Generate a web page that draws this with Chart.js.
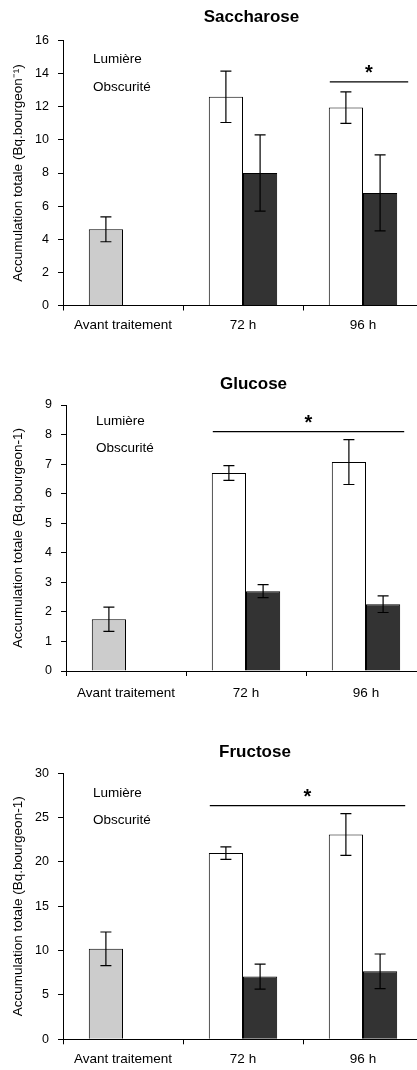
<!DOCTYPE html>
<html>
<head>
<meta charset="utf-8">
<script src="https://cdn.jsdelivr.net/npm/chart.js@4/dist/chart.umd.min.js"></script>
<style>
  html, body { margin: 0; padding: 0; background: #fff; overflow: hidden; width: 417px; height: 1070px; }
  canvas { position: absolute; left: 0; }
</style>
</head>
<body>
<canvas id="sacChart" width="503" height="340" style="top:0px"></canvas>
<canvas id="gluChart" width="507" height="362" style="top:350px"></canvas>
<canvas id="fruChart" width="510" height="360" style="top:715px"></canvas>
<script>
const categories = ['Avant traitement', '72 h', '96 h'];
const seriesNames = ['Lumière', 'Obscurité'];

const sacLumiere = [4.6, 12.6, 11.95];
const sacLumiereErr = [0.75, 1.55, 0.95];
const sacObscurite = [null, 8.0, 6.8];
const sacObscuriteErr = [null, 2.3, 2.3];

const gluLumiere = [1.75, 6.7, 7.07];
const gluLumiereErr = [0.41, 0.25, 0.76];
const gluObscurite = [null, 2.7, 2.26];
const gluObscuriteErr = [null, 0.22, 0.28];

const fruLumiere = [10.2, 21.0, 23.1];
const fruLumiereErr = [1.9, 0.7, 2.35];
const fruObscurite = [null, 7.07, 7.67];
const fruObscuriteErr = [null, 1.4, 1.95];

const sacTicks = [0, 16, 2];
const gluTicks = [0, 9, 1];
const fruTicks = [0, 30, 5];

Chart.defaults.font.family = "'Liberation Sans', Arial, sans-serif";
Chart.defaults.color = '#000';

// error bars, significance bar with star, and text-only legend
const extrasPlugin = {
    id: 'extras',
    afterDatasetsDraw(chart, args, opts) {
        const ctx = chart.ctx;
        const yScale = chart.scales.y;
        ctx.save();
        ctx.strokeStyle = '#000';
        ctx.lineWidth = 1.2;
        chart.data.datasets.forEach((ds, di) => {
            const meta = chart.getDatasetMeta(di);
            meta.data.forEach((bar, i) => {
                const v = ds.data[i];
                const e = opts.errors[di][i];
                if (v == null || e == null) return;
                const x = bar.getProps(['x'], true).x;
                const yt = yScale.getPixelForValue(v + e);
                const yb = yScale.getPixelForValue(v - e);
                ctx.beginPath();
                ctx.moveTo(x, yt); ctx.lineTo(x, yb);
                ctx.moveTo(x - 5.5, yt); ctx.lineTo(x + 5.5, yt);
                ctx.moveTo(x - 5.5, yb); ctx.lineTo(x + 5.5, yb);
                ctx.stroke();
            });
        });

        const s = opts.sig;
        const b0 = chart.getDatasetMeta(0).data[s.from].getProps(['x', 'width'], true);
        const b1 = chart.getDatasetMeta(1).data[s.to].getProps(['x', 'width'], true);
        const xl = b0.x - b0.width / 2 + 1;
        const xr = b1.x + b1.width / 2 + s.extra;
        const ys = yScale.getPixelForValue(s.value);
        ctx.lineWidth = 1.3;
        ctx.beginPath();
        ctx.moveTo(xl, ys); ctx.lineTo(xr, ys);
        ctx.stroke();
        ctx.fillStyle = '#000';
        ctx.font = "bold 20px 'Liberation Sans', Arial, sans-serif";
        ctx.textAlign = 'center';
        ctx.textBaseline = 'middle';
        ctx.fillText('*', (xl + xr) / 2, ys - 8);

        ctx.font = "13.5px 'Liberation Sans', Arial, sans-serif";
        ctx.textAlign = 'left';
        chart.data.datasets.forEach((ds, di) => {
            ctx.fillText(ds.label, chart.chartArea.left + 30, chart.chartArea.top + opts.legendY[di]);
        });
        ctx.restore();
    }
};

function makeChart(id, cfg) {
    const canvas = document.getElementById(id);
    return new Chart(canvas.getContext('2d'), {
        type: 'bar',
        data: {
            labels: categories,
            datasets: [{
                label: seriesNames[0],
                data: cfg.lum,
                backgroundColor: ['#cccccc', '#ffffff', '#ffffff'],
                borderColor: '#000',
                borderWidth: 1,
                categoryPercentage: 0.57,
                barPercentage: 1
            }, {
                label: seriesNames[1],
                data: cfg.obs,
                backgroundColor: '#333333',
                borderColor: '#000',
                borderWidth: 1,
                categoryPercentage: 0.57,
                barPercentage: 1
            }]
        },
        plugins: [extrasPlugin],
        options: {
            responsive: false,
            devicePixelRatio: 1,
            animation: false,
            layout: { padding: { left: 0, right: 0, top: 0, bottom: cfg.padBottom } },
            plugins: {
                legend: { display: false },
                tooltip: { enabled: false },
                title: {
                    display: true,
                    text: cfg.title,
                    color: '#000',
                    font: { size: 17, weight: 'bold' },
                    padding: { top: cfg.titleTop, bottom: cfg.titleBottom }
                },
                extras: {
                    errors: cfg.errors,
                    sig: cfg.sig,
                    legendY: cfg.legendY
                }
            },
            scales: {
                x: {
                    offset: true,
                    border: { color: '#000', width: 1 },
                    grid: { display: true, drawOnChartArea: false, drawTicks: true, tickLength: 5, color: '#000', offset: true },
                    ticks: { color: '#000', font: { size: 13.5 }, padding: cfg.xPad, maxRotation: 0, autoSkip: false }
                },
                y: {
                    min: cfg.ticks[0],
                    max: cfg.ticks[1],
                    border: { color: '#000', width: 1 },
                    grid: { drawOnChartArea: false, drawTicks: true, tickLength: 5, color: '#000' },
                    ticks: { stepSize: cfg.ticks[2], color: '#000', font: { size: 12.5 }, padding: 9 },
                    title: {
                        display: true,
                        text: cfg.yTitle,
                        color: '#000',
                        font: { size: 13.5 },
                        padding: { top: 10, bottom: 0 }
                    },
                    afterFit: s => { s.width = cfg.axisLeft; }
                },
                yR: {
                    position: 'right',
                    display: true,
                    border: { display: false },
                    grid: { display: false },
                    ticks: { display: false },
                    afterFit: s => { s.width = cfg.rightGap; }
                }
            }
        }
    });
}

makeChart('sacChart', {
    title: 'Saccharose',
    lum: sacLumiere, obs: sacObscurite,
    errors: [sacLumiereErr, sacObscuriteErr],
    ticks: sacTicks,
    yTitle: 'Accumulation totale (Bq.bourgeon\u207B\u00B9)',
    sig: { value: 13.5, from: 2, to: 2, extra: 11 },
    legendY: [18.5, 46.5],
    titleTop: 6.8, titleBottom: 13.3,
    xPad: 6.4, padBottom: 0.5,
    axisLeft: 63, rightGap: 503 - 423
});

makeChart('gluChart', {
    title: 'Glucose',
    lum: gluLumiere, obs: gluObscurite,
    errors: [gluLumiereErr, gluObscuriteErr],
    ticks: gluTicks,
    yTitle: 'Accumulation totale (Bq.bourgeon-1)',
    sig: { value: 8.1, from: 1, to: 2, extra: 4 },
    legendY: [16, 43],
    titleTop: 23.8, titleBottom: 10.8,
    xPad: 8.9, padBottom: 2,
    axisLeft: 66, rightGap: 507 - 426
});

makeChart('fruChart', {
    title: 'Fructose',
    lum: fruLumiere, obs: fruObscurite,
    errors: [fruLumiereErr, fruObscuriteErr],
    ticks: fruTicks,
    yTitle: 'Accumulation totale (Bq.bourgeon-1)',
    sig: { value: 26.35, from: 1, to: 2, extra: 8 },
    legendY: [20, 47],
    titleTop: 26.8, titleBottom: 11.1,
    xPad: 6.6, padBottom: 1.3,
    axisLeft: 63, rightGap: 510 - 423
});
</script>
</body>
</html>
